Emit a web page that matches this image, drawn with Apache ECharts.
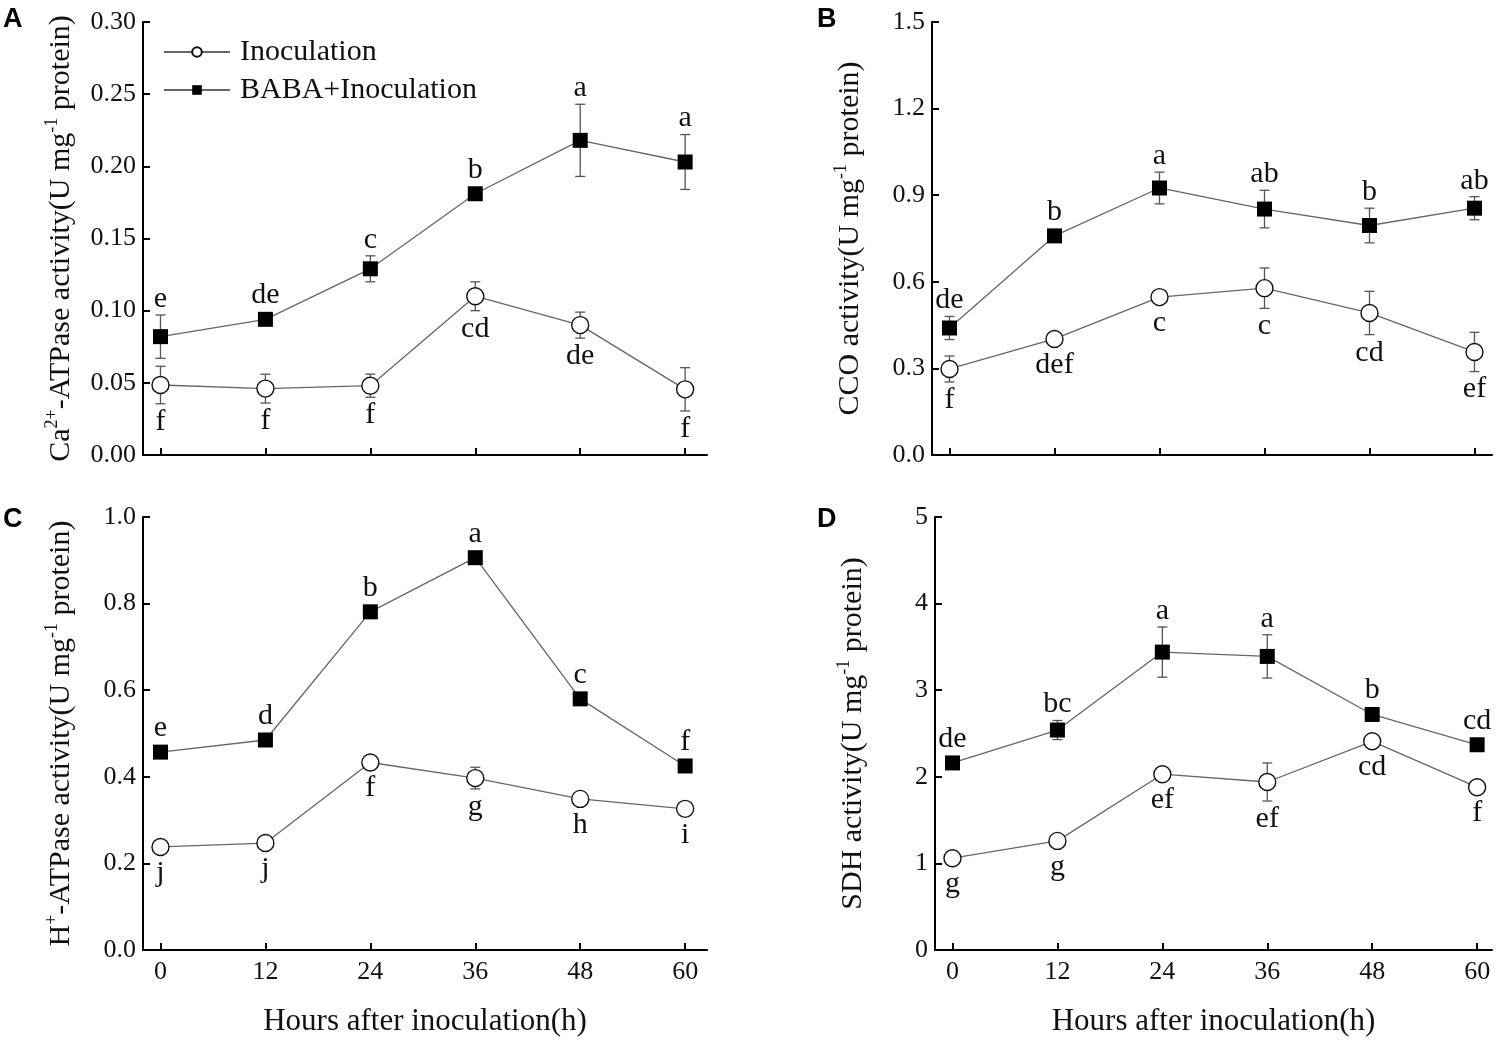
<!DOCTYPE html>
<html>
<head>
<meta charset="utf-8">
<title>BABA activity</title>
<script src="https://cdn.jsdelivr.net/npm/echarts@6.0.0/dist/echarts.min.js"></script>
<style>
  html, body { margin: 0; padding: 0; background: #fff; }
  #main { width: 1497px; height: 1043px; }
</style>
</head>
<body>
<div id="main"></div>
<script>
// hours after inoculation
var hours = [0, 12, 24, 36, 48, 60];

// A: Ca2+-ATPase
var caInoc = [0.0485, 0.046, 0.048, 0.110, 0.090, 0.0455];
var caInocErr = [0.013, 0.010, 0.008, 0.010, 0.009, 0.015];
var caInocLetters = ['f', 'f', 'f', 'cd', 'de', 'f'];
var caBaba = [0.082, 0.094, 0.129, 0.181, 0.218, 0.203];
var caBabaErr = [0.015, 0.002, 0.009, 0.002, 0.025, 0.019];
var caBabaLetters = ['e', 'de', 'c', 'b', 'a', 'a'];

// B: CCO
var ccoInoc = [0.298, 0.402, 0.547, 0.578, 0.492, 0.357];
var ccoInocErr = [0.045, 0.015, 0.010, 0.070, 0.075, 0.068];
var ccoInocLetters = ['f', 'def', 'c', 'c', 'cd', 'ef'];
var ccoBaba = [0.440, 0.759, 0.925, 0.852, 0.795, 0.855];
var ccoBabaErr = [0.040, 0.020, 0.055, 0.065, 0.060, 0.040];
var ccoBabaLetters = ['de', 'b', 'a', 'ab', 'b', 'ab'];

// C: H+-ATPase
var hInoc = [0.238, 0.247, 0.433, 0.397, 0.349, 0.326];
var hInocErr = [0.008, 0.008, 0.010, 0.025, 0.008, 0.008];
var hInocLetters = ['j', 'j', 'f', 'g', 'h', 'i'];
var hBaba = [0.457, 0.485, 0.781, 0.906, 0.580, 0.425];
var hBabaErr = [0.005, 0.005, 0.005, 0.005, 0.005, 0.005];
var hBabaLetters = ['e', 'd', 'b', 'a', 'c', 'f'];

// D: SDH
var sdhInoc = [1.06, 1.26, 2.03, 1.94, 2.41, 1.88];
var sdhInocErr = [0.08, 0.04, 0.03, 0.22, 0.03, 0.05];
var sdhInocLetters = ['g', 'g', 'ef', 'ef', 'cd', 'f'];
var sdhBaba = [2.16, 2.54, 3.44, 3.39, 2.72, 2.37];
var sdhBabaErr = [0.03, 0.11, 0.29, 0.25, 0.03, 0.03];
var sdhBabaLetters = ['de', 'bc', 'a', 'a', 'b', 'cd'];

var serif = 'Liberation Serif';

var chart = echarts.init(document.getElementById('main'));

// panel layout
var panels = [
  { left: 143, top: 22, width: 564, xmin: -2, xmax: 62.5, ymax: 0.30, yint: 0.05, dec: 2,
    name: 'Ca{sup|2+}-ATPase activity(U mg{sup|-1} protein)', xlab: false,
    inoc: caInoc, inocErr: caInocErr, inocL: caInocLetters,
    baba: caBaba, babaErr: caBabaErr, babaL: caBabaLetters },
  { left: 932, top: 22, width: 560, xmin: -2, xmax: 62, ymax: 1.5, yint: 0.3, dec: 1,
    name: 'CCO activity(U mg{sup|-1} protein)', xlab: false,
    inoc: ccoInoc, inocErr: ccoInocErr, inocL: ccoInocLetters,
    baba: ccoBaba, babaErr: ccoBabaErr, babaL: ccoBabaLetters },
  { left: 143, top: 517, width: 564, xmin: -2, xmax: 62.5, ymax: 1.0, yint: 0.2, dec: 1,
    name: 'H{sup|+}-ATPase activity(U mg{sup|-1} protein)', xlab: true,
    inoc: hInoc, inocErr: hInocErr, inocL: hInocLetters,
    baba: hBaba, babaErr: hBabaErr, babaL: hBabaLetters },
  { left: 935, top: 517, width: 557, xmin: -2, xmax: 61.7, ymax: 5, yint: 1, dec: 0,
    name: 'SDH activity(U mg{sup|-1} protein)', xlab: true,
    inoc: sdhInoc, inocErr: sdhInocErr, inocL: sdhInocLetters,
    baba: sdhBaba, babaErr: sdhBabaErr, babaL: sdhBabaLetters }
];

function pairs(vals) {
  return hours.map(function (h, i) { return [h, vals[i]]; });
}

function errorBars(vals, errs) {
  return function (params, api) {
    var i = params.dataIndex;
    var hi = api.coord([hours[i], vals[i] + errs[i]]);
    var lo = api.coord([hours[i], vals[i] - errs[i]]);
    var w = 5;
    var st = { stroke: '#555', lineWidth: 1.3 };
    return {
      type: 'group',
      children: [
        { type: 'line', shape: { x1: hi[0], y1: hi[1], x2: lo[0], y2: lo[1] }, style: st },
        { type: 'line', shape: { x1: hi[0] - w, y1: hi[1], x2: hi[0] + w, y2: hi[1] }, style: st },
        { type: 'line', shape: { x1: lo[0] - w, y1: lo[1], x2: lo[0] + w, y2: lo[1] }, style: st }
      ]
    };
  };
}

function letterMarks(vals, errs, letters, above) {
  return function (params, api) {
    var i = params.dataIndex;
    var p = api.coord([hours[i], vals[i]]);
    var e = api.coord([hours[i], above ? vals[i] + errs[i] : vals[i] - errs[i]]);
    var y = above ? Math.min(e[1], p[1] - 8) - 1 : Math.max(e[1], p[1] + 8) + 3;
    return {
      type: 'text',
      x: p[0],
      y: y,
      style: {
        text: letters[i],
        fill: '#111',
        font: '30px "Liberation Serif"',
        align: 'center',
        verticalAlign: above ? 'bottom' : 'top'
      }
    };
  };
}

var grids = [], xAxes = [], yAxes = [], series = [];

panels.forEach(function (p, k) {
  grids.push({ left: p.left, top: p.top, width: p.width, height: 433, containLabel: false, outerBoundsMode: 'none' });
  xAxes.push({
    type: 'value', gridIndex: k, min: p.xmin, max: p.xmax,
    splitLine: { show: false },
    axisLine: { onZero: false, lineStyle: { color: '#000', width: 2 } },
    axisTick: { show: true, inside: true, length: 7, lineStyle: { color: '#000', width: 2 }, customValues: hours },
    axisLabel: { show: p.xlab, customValues: hours, margin: 9, color: '#111', fontFamily: serif, fontSize: 26 },
    name: p.xlab ? 'Hours after inoculation(h)' : '',
    nameLocation: 'middle', nameGap: 56,
    nameTextStyle: { color: '#111', fontFamily: serif, fontSize: 31 }
  });
  yAxes.push({
    type: 'value', gridIndex: k, min: 0, max: p.ymax, interval: p.yint,
    splitLine: { show: false },
    axisLine: { show: true, onZero: false, lineStyle: { color: '#000', width: 2 } },
    axisTick: { show: true, inside: true, length: 7, lineStyle: { color: '#000', width: 2 } },
    axisLabel: { margin: 7, color: '#111', fontFamily: serif, fontSize: 26,
      formatter: function (v) { return v.toFixed(p.dec); } },
    name: p.name, nameLocation: 'middle', nameGap: 64, nameRotate: 90,
    nameTextStyle: {
      color: '#111', fontFamily: serif, fontSize: 30, lineHeight: 36,
      rich: { sup: { fontFamily: serif, fontSize: 18, verticalAlign: 'top', lineHeight: 36, color: '#111' } }
    }
  });

  series.push({
    type: 'custom', name: 'errInoc' + k, xAxisIndex: k, yAxisIndex: k, z: 1, clip: false,
    renderItem: errorBars(p.inoc, p.inocErr), data: pairs(p.inoc), silent: true
  });
  series.push({
    type: 'custom', name: 'errBaba' + k, xAxisIndex: k, yAxisIndex: k, z: 1, clip: false,
    renderItem: errorBars(p.baba, p.babaErr), data: pairs(p.baba), silent: true
  });
  series.push({
    type: 'line', name: 'Inoculation', xAxisIndex: k, yAxisIndex: k, z: 3,
    data: pairs(p.inoc), symbol: 'circle', symbolSize: 17,
    lineStyle: { color: '#666', width: 1.3 },
    itemStyle: { color: '#fff', borderColor: '#111', borderWidth: 1.4 },
    emphasis: { disabled: true }, animation: false
  });
  series.push({
    type: 'line', name: 'BABA+Inoculation', xAxisIndex: k, yAxisIndex: k, z: 3,
    data: pairs(p.baba), symbol: 'rect', symbolSize: 15,
    lineStyle: { color: '#666', width: 1.3 },
    itemStyle: { color: '#000', borderColor: '#000', borderWidth: 0 },
    emphasis: { disabled: true }, animation: false
  });
  series.push({
    type: 'custom', name: 'lblInoc' + k, xAxisIndex: k, yAxisIndex: k, z: 4, clip: false,
    renderItem: letterMarks(p.inoc, p.inocErr, p.inocL, false), data: pairs(p.inoc), silent: true
  });
  series.push({
    type: 'custom', name: 'lblBaba' + k, xAxisIndex: k, yAxisIndex: k, z: 4, clip: false,
    renderItem: letterMarks(p.baba, p.babaErr, p.babaL, true), data: pairs(p.baba), silent: true
  });
});

var option = {
  backgroundColor: '#fff',
  animation: false,
  textStyle: { fontFamily: serif },
  legend: {
    data: ['Inoculation', 'BABA+Inoculation'],
    orient: 'vertical', left: 158, top: 32,
    itemWidth: 66, itemHeight: 12, itemGap: 8,
    textStyle: { color: '#111', fontFamily: serif, fontSize: 30, padding: [0, 0, 0, 5] },
    selectedMode: false
  },
  grid: grids,
  xAxis: xAxes,
  yAxis: yAxes,
  series: series,
  graphic: [
    { type: 'text', left: 3, top: 6, style: { text: 'A', font: 'bold 27px "Liberation Sans"', fill: '#000' } },
    { type: 'text', left: 817, top: 6, style: { text: 'B', font: 'bold 27px "Liberation Sans"', fill: '#000' } },
    { type: 'text', left: 3, top: 506, style: { text: 'C', font: 'bold 27px "Liberation Sans"', fill: '#000' } },
    { type: 'text', left: 817, top: 506, style: { text: 'D', font: 'bold 27px "Liberation Sans"', fill: '#000' } }
  ]
};

chart.setOption(option);
</script>
</body>
</html>
